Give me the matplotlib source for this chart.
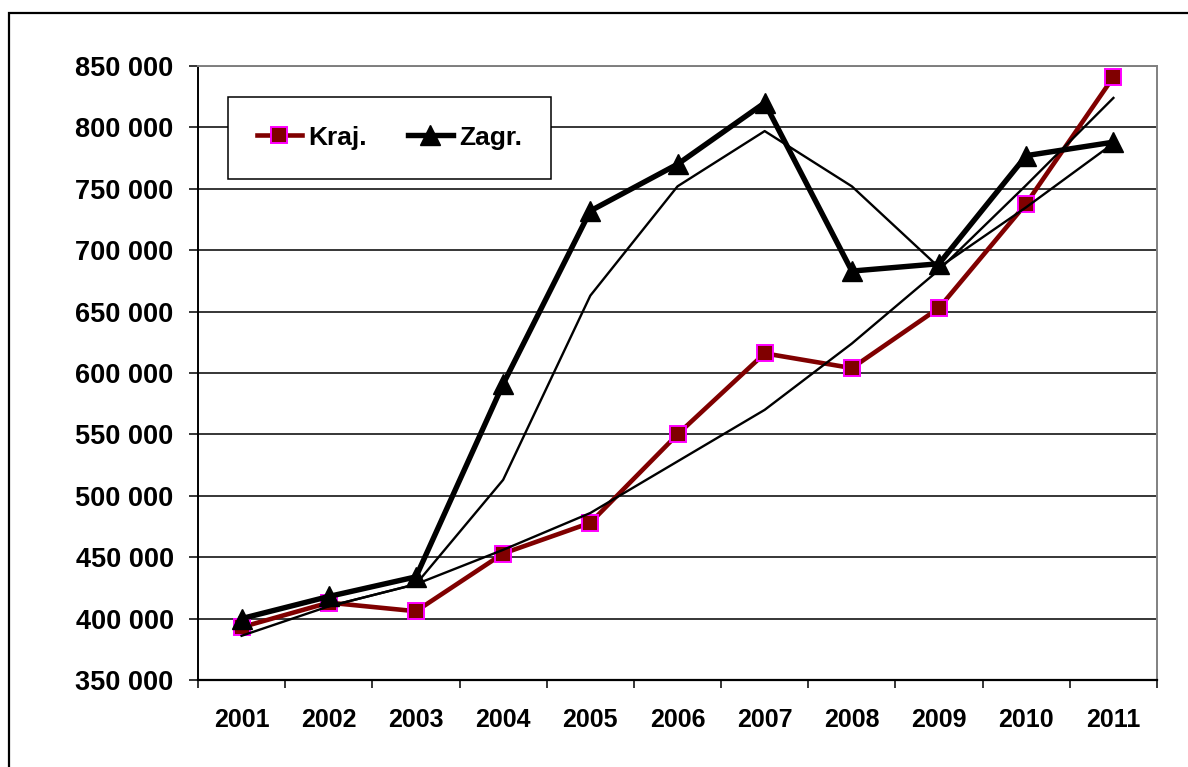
import matplotlib
matplotlib.use("Agg")
import matplotlib.pyplot as plt
from matplotlib.patches import Rectangle
from matplotlib.ticker import FuncFormatter, FixedLocator

plt.rcParams['font.family'] = ['Liberation Sans', 'DejaVu Sans']
plt.rcParams['font.weight'] = 'bold'

# data
years = ['2001', '2002', '2003', '2004', '2005', '2006', '2007', '2008', '2009', '2010', '2011']
kraj = [393000, 413000, 406000, 453000, 478000, 550000, 616000, 604000, 653000, 738000, 841000]
zagr = [400000, 418000, 434000, 591000, 732000, 770000, 820000, 683000, 689000, 777000, 788000]
# thin trend lines (polynomial trend for Kraj., 2-period moving average for Zagr.)
kraj_trend = [386000, 410000, 428000, 456000, 486000, 528000, 570000, 624000, 684000, 753000, 824000]
zagr_avg = [None, 410000, 428000, 513000, 663000, 752000, 797000, 752000, 686000, 735000, 787000]
y_ticks = [350000, 400000, 450000, 500000, 550000, 600000, 650000, 700000, 750000, 800000, 850000]

fig = plt.figure(figsize=(11.88, 7.67), dpi=100)
ax = fig.add_axes([198 / 1188, 87 / 767, 959 / 1188, 614 / 767])

x = list(range(len(years)))

ax.plot(x, kraj, color='#800000', lw=3.3, marker='s', markersize=11,
        markerfacecolor='#800000', markeredgecolor='#FF00FF', markeredgewidth=1.4,
        label='Kraj.', zorder=3)
ax.plot(x, zagr, color='black', lw=3.9, marker='^', markersize=14,
        markerfacecolor='black', markeredgecolor='black', label='Zagr.', zorder=3)

ax.plot(x, kraj_trend, color='black', lw=1.7, zorder=4)
avg_x = [i for i, v in zip(x, zagr_avg) if v is not None]
avg_y = [v for v in zagr_avg if v is not None]
ax.plot(avg_x, avg_y, color='black', lw=1.7, zorder=4)

ax.set_xlim(-0.5, len(years) - 0.5)
ax.set_ylim(350000, 850000)

ax.set_yticks(y_ticks)
ax.yaxis.set_major_formatter(FuncFormatter(lambda v, p: f"{int(v):,}".replace(',', ' ')))
ax.set_xticks(x)
ax.set_xticklabels(years)
ax.xaxis.set_minor_locator(FixedLocator([i - 0.5 for i in range(len(years) + 1)]))

ax.tick_params(axis='y', length=6.5, width=1.1, pad=11, labelsize=19.5, color='black')
ax.tick_params(axis='x', which='major', length=0, pad=20, labelsize=18, color='black')
ax.tick_params(axis='x', which='minor', length=6, width=1.1, color='black')
for lab in ax.get_xticklabels() + ax.get_yticklabels():
    lab.set_fontweight('bold')

ax.yaxis.grid(True, color='black', lw=1.1)
ax.set_axisbelow(True)

ax.spines['left'].set_color('black')
ax.spines['left'].set_linewidth(1.4)
ax.spines['bottom'].set_color('black')
ax.spines['bottom'].set_linewidth(1.6)
ax.spines['top'].set_color('#808080')
ax.spines['top'].set_linewidth(1.4)
ax.spines['right'].set_color('#808080')
ax.spines['right'].set_linewidth(1.4)

leg = ax.legend(loc='upper left', bbox_to_anchor=(0.031, 0.95), ncol=2,
                prop={'size': 19, 'weight': 'bold'}, frameon=True, fancybox=False,
                borderpad=1.1, handlelength=1.7, handletextpad=0.25,
                columnspacing=1.55, borderaxespad=0)
leg.get_frame().set_edgecolor('black')
leg.get_frame().set_linewidth(1.1)
leg.get_frame().set_alpha(1)

# outer chart border (only left and top edges fall inside the picture)
fig.patches.append(Rectangle((9 / 1188, -0.2), 1.2, (767 - 13) / 767 + 0.2,
                             transform=fig.transFigure, fill=False,
                             edgecolor='black', lw=1.6, clip_on=False))

fig.savefig('out.png', dpi=100)
